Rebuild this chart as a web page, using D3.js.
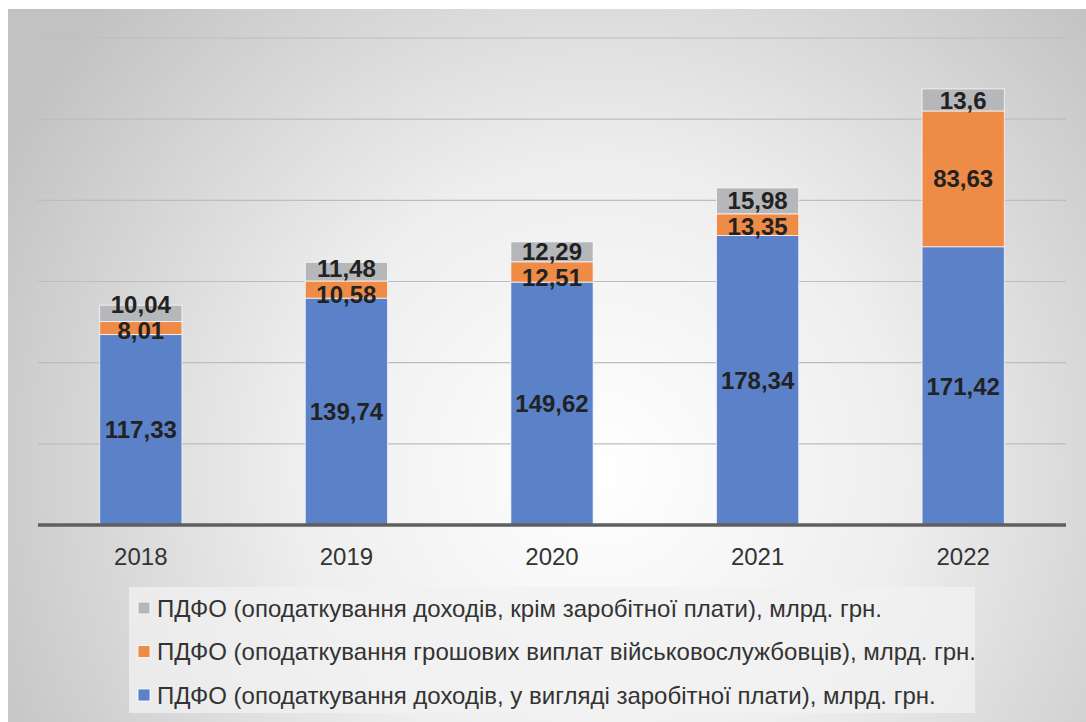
<!DOCTYPE html>
<html>
<head>
<meta charset="utf-8">
<script src="https://cdn.jsdelivr.net/npm/d3@7"></script>
<style>
  body { margin: 0; background: #ffffff; }
  svg { display: block; font-family: "Liberation Sans", Arial, sans-serif; }
</style>
</head>
<body>
<div id="chart"></div>
<script>
// Years on the x axis
var years = ["2018", "2019", "2020", "2021", "2022"];

// Series values, bottom to top of each stack
var salaryTax = [117.33, 139.74, 149.62, 178.34, 171.42];
var militaryTax = [8.01, 10.58, 12.51, 13.35, 83.63];
var otherTax = [10.04, 11.48, 12.29, 15.98, 13.6];

var seriesNames = [
  "ПДФО (оподаткування доходів, у вигляді заробітної плати), млрд. грн.",
  "ПДФО (оподаткування грошових виплат військовослужбовців), млрд. грн.",
  "ПДФО (оподаткування доходів, крім заробітної плати), млрд. грн."
];
var seriesColors = ["#5b82c9", "#ee8b47", "#b6b7ba"];

var yTicks = [0, 50, 100, 150, 200, 250, 300];

var width = 1086, height = 722;

var svg = d3.select("#chart").append("svg")
  .attr("width", width).attr("height", height);

var defs = svg.append("defs");
var grad = defs.append("radialGradient")
  .attr("id", "bg")
  .attr("gradientUnits", "userSpaceOnUse")
  .attr("cx", 600).attr("cy", 470).attr("r", 680);
grad.append("stop").attr("offset", "0%").attr("stop-color", "#ffffff");
grad.append("stop").attr("offset", "45%").attr("stop-color", "#eeeeee");
grad.append("stop").attr("offset", "100%").attr("stop-color", "#c2c2c2");

svg.append("rect")
  .attr("x", 8).attr("y", 9)
  .attr("width", width - 8).attr("height", height - 9)
  .attr("fill", "url(#bg)");

var x = d3.scaleBand().domain(years).range([38, 1066]).paddingInner(0.6).paddingOuter(0.3);
var y = d3.scaleLinear().domain([0, 300]).range([525, 38]);

// gridlines
svg.append("g").selectAll("line")
  .data(yTicks.slice(1))
  .join("line")
  .attr("x1", 38).attr("x2", 1066)
  .attr("y1", function(d) { return y(d); })
  .attr("y2", function(d) { return y(d); })
  .attr("stroke", "#bdbdbd").attr("stroke-width", 1.2);

var rows = years.map(function(yr, i) {
  return { year: yr, s0: salaryTax[i], s1: militaryTax[i], s2: otherTax[i] };
});
var stack = d3.stack().keys(["s0", "s1", "s2"]);
var stacked = stack(rows);

var layers = svg.append("g").selectAll("g")
  .data(stacked)
  .join("g")
  .attr("fill", function(d, i) { return seriesColors[i]; });

layers.selectAll("rect")
  .data(function(d) { return d; })
  .join("rect")
  .attr("x", function(d) { return x(d.data.year); })
  .attr("y", function(d) { return y(d[1]); })
  .attr("width", x.bandwidth())
  .attr("height", function(d) { return y(d[0]) - y(d[1]); })
  .attr("stroke", "#ffffff").attr("stroke-opacity", 0.7).attr("stroke-width", 1);

// value labels, nudged apart where small segments would make them collide
var fmt = function(v) { return String(v).replace(".", ","); };
var labels = svg.append("g")
  .attr("font-size", 24).attr("font-weight", "bold").attr("fill", "#222222")
  .attr("text-anchor", "middle");
var minGap = 26;
years.forEach(function(yr, i) {
  var segs = stacked.map(function(layer) { return layer[i]; });
  var cy = segs.map(function(d) { return (y(d[0]) + y(d[1])) / 2; });
  // walk from the bottom up: each label must sit minGap above the one below it
  for (var k = 1; k < segs.length; k++) {
    var gap = cy[k - 1] - cy[k];
    if (gap < minGap) {
      var need = minGap - gap;
      var down = Math.max(0, Math.min(need, y(segs[k - 1][0]) - 4 - cy[k - 1]));
      cy[k - 1] += down;
      cy[k] -= need - down;
    }
  }
  segs.forEach(function(d, k) {
    labels.append("text")
      .attr("x", x(yr) + x.bandwidth() / 2)
      .attr("y", cy[k])
      .attr("dy", "0.36em")
      .text(fmt(+(d[1] - d[0]).toFixed(2)));
  });
});

// baseline axis
var xAxis = svg.append("g")
  .attr("transform", "translate(0," + y(0) + ")")
  .call(d3.axisBottom(x).tickSize(0).tickPadding(23));
xAxis.select(".domain").attr("stroke", "#5f5f5f").attr("stroke-width", 3.5)
  .attr("d", "M38,0H1066");
xAxis.selectAll("text").attr("font-size", 24).attr("fill", "#333333")
  .attr("font-family", "Liberation Sans, Arial, sans-serif");

// legend
var legend = svg.append("g");
legend.append("rect")
  .attr("x", 129).attr("y", 587).attr("width", 846).attr("height", 126)
  .attr("fill", "#f2f2f2").attr("fill-opacity", 0.75);
var legendOrder = [2, 1, 0];
legendOrder.forEach(function(k, i) {
  var cy = 608 + i * 43.5;
  legend.append("rect")
    .attr("x", 138).attr("y", cy - 6).attr("width", 12).attr("height", 12)
    .attr("fill", seriesColors[k]).attr("stroke", "#ffffff").attr("stroke-width", 0.8);
  legend.append("text")
    .attr("x", 157).attr("y", cy).attr("dy", "0.36em")
    .attr("font-size", 24).attr("fill", "#333333")
    .text(seriesNames[k]);
});
</script>
</body>
</html>
